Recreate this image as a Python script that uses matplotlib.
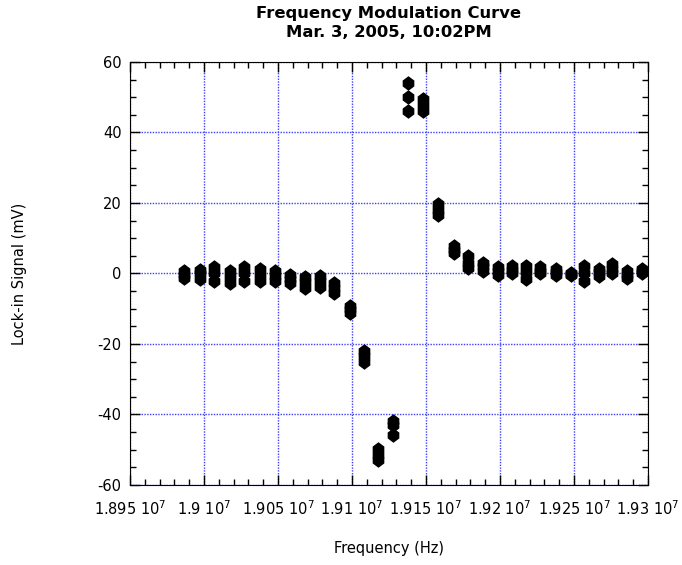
import matplotlib
matplotlib.use("Agg")
import matplotlib.pyplot as plt
from matplotlib.ticker import MultipleLocator, AutoMinorLocator, FuncFormatter

plt.rcParams['font.family'] = ['DejaVu Sans']
plt.rcParams['axes.unicode_minus'] = False

# frequency of each step (Hz)
freq = [18986600, 18997000, 19007100, 19017700, 19027300, 19037800, 19047700, 19058200,
        19068000, 19078300, 19088200, 19098500, 19107900, 19117900, 19128000, 19138100,
        19148200, 19158200, 19168800, 19178400, 19188400, 19199000, 19208200, 19217600,
        19227000, 19237700, 19247800, 19256700, 19266800, 19275800, 19285800, 19295900]

# lock-in signal (mV), three sweeps
sweep1 = [0.6, 1.1, 1.7, 0.7, 1.7, 1.2, 0.7, -0.3, -1.1, -0.7, -2.6, -9.2, -22.0, -49.9,
          -41.8, 54.0, 49.4, 19.6, 7.8, 5.0, 3.0, 1.7, 2.0, 2.1, 1.7, 1.2, 0.2, 2.1, 1.2,
          2.6, 0.6, 1.2]
sweep2 = [-0.3, 0.0, 0.0, -1.0, 0.0, -0.5, -0.8, -1.5, -2.5, -2.2, -4.0, -10.2, -23.5, -51.5,
          -43.0, 50.0, 47.8, 18.0, 6.8, 3.0, 2.0, 0.7, 1.0, 0.3, 0.8, 0.3, -0.2, 0.0, 0.3,
          1.2, -0.3, 0.6]
sweep3 = [-1.2, -1.7, -2.1, -2.7, -2.1, -2.1, -2.2, -2.7, -4.1, -3.7, -5.5, -11.2, -25.0, -52.8,
          -45.7, 46.1, 46.1, 16.7, 5.8, 1.5, 0.8, -0.3, 0.1, -1.5, 0.0, -0.5, -0.5, -2.1, -0.6,
          0.0, -1.2, 0.0]

hexmark = [(0, 1), (0.8, 0.4), (0.8, -0.4), (0, -1), (-0.8, -0.4), (-0.8, 0.4), (0, 1)]

fig = plt.figure(figsize=(6.82, 5.65), dpi=100)
ax = fig.add_axes([0.1906, 0.1416, 0.7594, 0.7487])

for s in (sweep1, sweep2, sweep3):
    ax.plot(freq, s, linestyle='none', marker=hexmark, markersize=10.5,
            color='black', markeredgewidth=0)

ax.set_xlim(1.895e7, 1.93e7)
ax.set_ylim(-60, 60)
ax.xaxis.set_major_locator(MultipleLocator(50000))
ax.xaxis.set_minor_locator(AutoMinorLocator(5))
ax.yaxis.set_major_locator(MultipleLocator(20))
ax.yaxis.set_minor_locator(AutoMinorLocator(4))

def xfmt(v, pos):
    m = ('%.4f' % (v / 1e7)).rstrip('0').rstrip('.')
    return m + r' $10^7$'
ax.xaxis.set_major_formatter(FuncFormatter(xfmt))

ax.tick_params(which='both', direction='in', top=True, right=True, labelsize=10.5, colors='black')
ax.tick_params(which='major', length=7, width=1)
ax.tick_params(which='minor', length=4, width=1)
ax.tick_params(axis='x', pad=10)
ax.tick_params(axis='y', pad=6)

ax.grid(True, which='major', color='#4040ff', linestyle=(0, (1, 1)), linewidth=1)
ax.set_axisbelow(True)

ax.set_title('Frequency Modulation Curve\nMar. 3, 2005, 10:02PM', fontsize=11.8,
             fontweight='bold', pad=18, linespacing=1.3)
ax.set_xlabel('Frequency (Hz)', fontsize=10.5)
ax.set_ylabel('Lock-in Signal (mV)', fontsize=10.5)
ax.xaxis.set_label_coords(0.5, -0.132)
ax.yaxis.set_label_coords(-0.199, 0.5)

fig.savefig('out.png', dpi=100)
